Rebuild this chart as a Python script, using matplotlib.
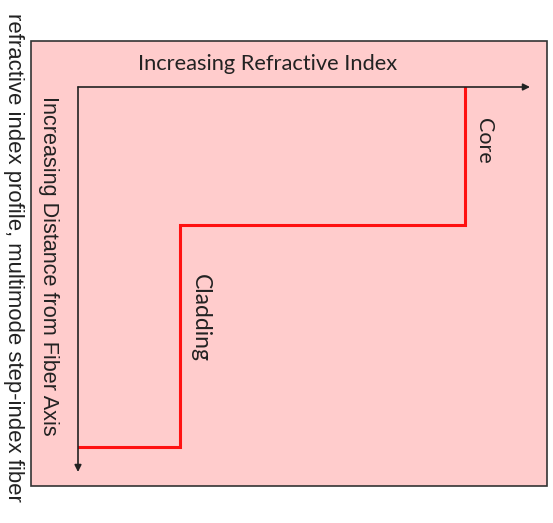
import matplotlib
matplotlib.use("Agg")
import matplotlib.pyplot as plt
from matplotlib.patches import Rectangle

# Step-index profile (normalised units)
# distance from fiber axis (0 = axis, 1 = end of distance arrow)
distance = [0.0, 0.358, 0.358, 0.935, 0.935]
# refractive index (0 = axis origin, 1 = end of index arrow)
index = [0.856, 0.856, 0.226, 0.226, 0.0]

title_text = "refractive index profile, multimode step-index fiber"
x_label = "Increasing Refractive Index"
y_label = "Increasing Distance from Fiber Axis"
core_label = "Core"
clad_label = "Cladding"

W, H = 553, 523
fig = plt.figure(figsize=(W / 100, H / 100), dpi=100)
fig.patch.set_facecolor("white")

# background box in figure pixels
bg = fig.add_axes([0, 0, 1, 1])
bg.set_xlim(0, W)
bg.set_ylim(H, 0)
bg.axis("off")
bg.add_patch(Rectangle((31, 41), 516, 445, facecolor="#ffcccc",
                       edgecolor="#333333", linewidth=1.2))
bg.text(13, 257, title_text, rotation=-90, ha="center", va="center",
        fontsize=15.9, color="#222222", family="Liberation Sans")

# profile axes: x from pixel 78 to 530, y from 87 to 472
x0, x1, y0, y1 = 78, 530, 87, 472
ax = fig.add_axes([x0 / W, 1 - y1 / H, (x1 - x0) / W, (y1 - y0) / H])
ax.set_xlim(0, 1)
ax.set_ylim(1, 0)
ax.axis("off")
ax.patch.set_alpha(0)

# arrows (axes)
ax.annotate("", xy=(1.0, 0), xytext=(0, 0),
            arrowprops=dict(arrowstyle="-|>", color="#222222", lw=1.2,
                            mutation_scale=10, shrinkA=0, shrinkB=0))
ax.annotate("", xy=(0, 1.0), xytext=(0, 0),
            arrowprops=dict(arrowstyle="-|>", color="#222222", lw=1.2,
                            mutation_scale=10, shrinkA=0, shrinkB=0))

ax.plot(index, distance, color="#ff1111", lw=2.2, solid_joinstyle="miter")

lato = dict(family="Lato", color="#222222")
ax.text(0.42, -0.06, x_label, ha="center", va="center", fontsize=15.75, **lato)
ax.text(-0.065, 0.465, y_label, rotation=-90, ha="center", va="center",
        fontsize=15.6, color="#222222", family="Liberation Sans")
ax.text(0.898, 0.14, core_label, rotation=-90, ha="center", va="center",
        fontsize=15.5, **lato)
ax.text(0.27, 0.60, clad_label, rotation=-90, ha="center", va="center",
        fontsize=16.5, **lato)

fig.savefig("out.png", dpi=100)
